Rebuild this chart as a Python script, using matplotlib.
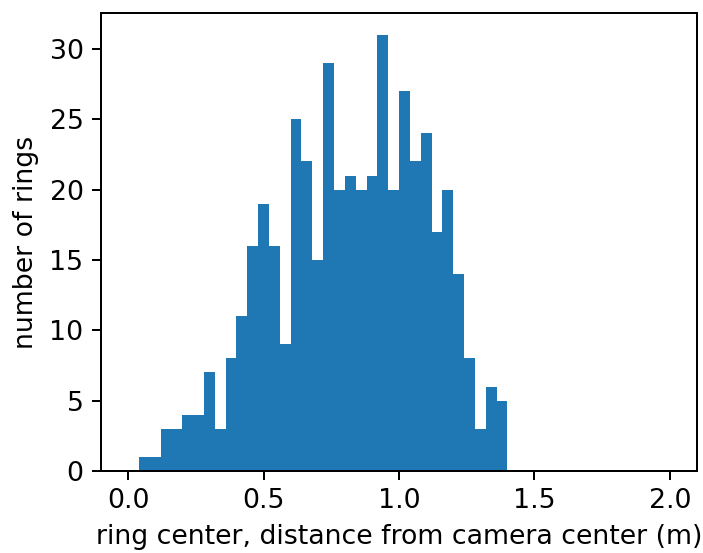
import matplotlib
matplotlib.use("Agg")
import matplotlib.pyplot as plt
import numpy as np

# histogram bins of 0.04 m between 0 and 2 m
binEdges = np.linspace(0.0, 2.0, 51)
firstBin = 1  # first non-empty bin starts at 0.04
counts = [1, 1, 3, 3, 4, 4, 7, 3, 8, 11, 16, 19, 16, 9, 25, 22, 15, 29,
          20, 21, 20, 21, 31, 20, 27, 22, 24, 17, 20, 14, 8, 3, 6, 5]

weights = np.zeros(len(binEdges) - 1)
weights[firstBin:firstBin + len(counts)] = counts

plt.rcParams["font.size"] = 10.7

dpi = 180
fig = plt.figure(figsize=(703 / dpi, 553 / dpi), dpi=dpi)
ax = fig.add_axes([0.1437, 0.1483, 0.8478, 0.8282])

ax.hist(binEdges[:-1], bins=binEdges, weights=weights, color="#1f77b4")
ax.set_xlabel("ring center, distance from camera center (m)")
ax.set_ylabel("number of rings")

fig.savefig("out.png", dpi=dpi)
